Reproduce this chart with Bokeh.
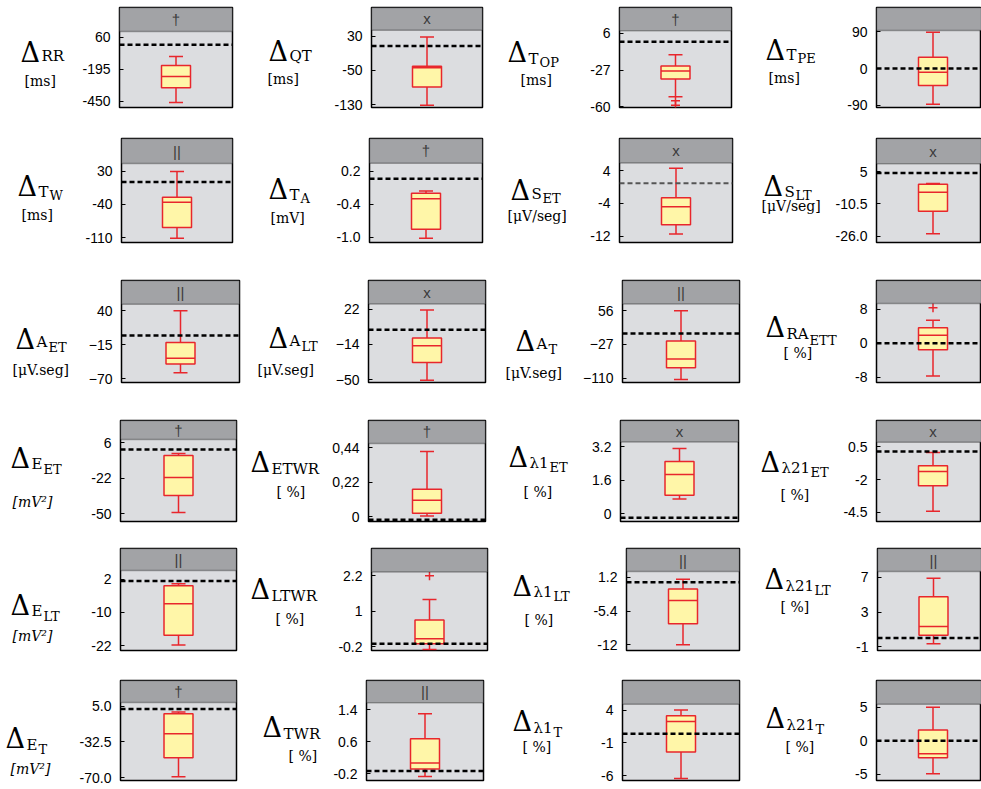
from bokeh.plotting import figure
from bokeh.layouts import column, row
from bokeh.models import Range1d, FixedTicker, Span, BoxAnnotation, Label, ColumnDataSource
from bokeh.core.properties import value
from bokeh.embed import file_html
from bokeh.resources import INLINE

# ---------------- data ----------------
sub_main = ["RR", "QT", "T", "T",
            "T", "T", "S", "S",
            "A", "A", "A", "RA",
            "E", "ETWR", "λ1", "λ21",
            "E", "LTWR", "λ1", "λ21",
            "E", "TWR", "λ1", "λ21"]
sub_second = ["", "", "OP", "PE",
              "W", "A", "ET", "LT",
              "ET", "LT", "T", "ETT",
              "ET", "", "ET", "ET",
              "LT", "", "LT", "LT",
              "T", "", "T", "T"]
unit_text = ["[ms]", "[ms]", "[ms]", "[ms]",
             "[ms]", "[mV]", "[μV/seg]", "[μV/seg]",
             "[μV.seg]", "[μV.seg]", "[μV.seg]", "[ %]",
             "[mV²]", "[ %]", "[ %]", "[ %]",
             "[mV²]", "[ %]", "[ %]", "[ %]",
             "[mV²]", "[ %]", "[ %]", "[ %]"]
header_mark = ["†", "x", "†", "",
               "||", "†", "x", "x",
               "||", "x", "||", "",
               "†", "†", "x", "x",
               "||", "", "||", "||",
               "†", "||", "", ""]

tick_vals = [[60, -195, -450], [30, -50, -130], [6, -27, -60], [90, 0, -90],
             [30, -40, -110], [0.2, -0.4, -1.0], [4, -4, -12], [5, -10.5, -26.0],
             [40, -15, -70], [22, -14, -50], [56, -27, -110], [8, 0, -8],
             [6, -22, -50], [0.44, 0.22, 0], [3.2, 1.6, 0], [0.5, -2, -4.5],
             [2, -10, -22], [2.2, 1, -0.2], [1.2, -5.4, -12], [7, 3, -1],
             [5.0, -32.5, -70.0], [1.4, 0.6, -0.2], [4, -1, -6], [5, 0, -5]]
tick_text = [["60", "-195", "-450"], ["30", "-50", "-130"], ["6", "-27", "-60"], ["90", "0", "-90"],
             ["30", "-40", "-110"], ["0.2", "-0.4", "-1.0"], ["4", "-4", "-12"], ["5", "-10.5", "-26.0"],
             ["40", "\u221215", "\u221270"], ["22", "\u221214", "\u221250"], ["56", "\u221227", "\u2212110"], ["8", "0", "-8"],
             ["6", "-22", "-50"], ["0,44", "0,22", "0"], ["3.2", "1.6", "0"], ["0.5", "-2", "-4.5"],
             ["2", "-10", "-22"], ["2.2", "1", "-0.2"], ["1.2", "-5.4", "-12"], ["7", "3", "-1"],
             ["5.0", "-32.5", "-70.0"], ["1.4", "0.6", "-0.2"], ["4", "-1", "-6"], ["5", "0", "-5"]]

y_low = [-498, -136.7, -60.5, -95.9,
         -120.1, -1.099, -13.56, -29.1,
         -75.7, -53.0, -121, -9.2,
         -56.3, -0.029, -0.36, -5.22,
         -23.7, -0.33, -13.1, -1.44,
         -73, -0.37, -6.72, -5.93]
y_high = [106, 43.3, 8.2, 93.5,
          46.2, 0.344, 5.92, 8.9,
          50.3, 27.3, 73, 9.3,
          8.4, 0.469, 3.42, 0.86,
          5.1, 2.33, 2.33, 7.67,
          9, 1.57, 4.87, 5.43]

w_high = [-93, 27.8, -13.3, 89.5,
          29.4, -0.161, 4.65, -0.6,
          40, 21.3, 56.7, 5.4,
          -2.7, 0.417, 3.11, 0.07,
          0.29, 1.4, 0.82, 6.9,
          -1, 1.30, 4.0, 5.0]
box_q3 = [-164, -40.4, -23.4, 28,
          -24.8, -0.202, -2.6, -1.0,
          -11.1, -7.5, -18.6, 3.65,
          -4.3, 0.176, 2.49, -0.95,
          -0.4, 0.7, -1.06, 4.78,
          -3, 0.67, 3.13, 1.59]
box_med = [-251, -44, -27.7, -9,
           -35.5, -0.30, -4.8, -4.9,
           -36.8, -15.5, -62.6, 1.9,
           -21.6, 0.106, 1.87, -1.38,
           -6.9, 0.067, -3.33, 1.33,
           -24, 0.067, 2.26, -1.96]
box_q1 = [-340, -89, -35, -42,
          -88.3, -0.857, -9.2, -14.0,
          -46, -32.6, -84.6, -1.5,
          -35.8, 0.023, 0.89, -2.47,
          -18.2, -0.1, -7.85, 0.33,
          -49, -0.08, -2.38, -2.53]
w_low = [-458, -131.5, -50.9, -88,
         -111.4, -1.02, -11.5, -24.9,
         -59.8, -50.7, -113.6, -7.7,
         -49.2, 0.006, 0.71, -4.43,
         -21.7, -0.3, -12.0, -0.67,
         -69, -0.27, -6.43, -4.94]
outlier_vals = [[], [], [-54.4, -58.5], [],
                [], [], [], [],
                [], [], [], [8.3],
                [], [], [], [],
                [], [2.2], [], [],
                [], [], [], []]
zero_line = [0, 7, -1.5, 0,
             7.5, 0.06, 0.95, 4.5,
             0, 0.9, 0, 0,
             0.5, -0.018, -0.18, 0.14,
             1.3, -0.1, 0.26, 0,
             2, -0.13, 0.38, 0]

# ---------------- layout (page pixels) ----------------
col_edges = [0, 248, 498, 750, 981]
row_edges = [0, 132, 266, 400, 536, 667, 789]
# frame: left, right, header top, header bottom, plot bottom
frame_box = [(119, 232, 4, 29, 108), (371, 482, 4, 28, 109), (619, 731, 4, 28, 107), (876, 989, 7, 31, 111),
             (121, 232, 138, 164, 246), (369, 482, 137, 162, 242), (619, 732, 137, 162, 243), (876, 989, 138, 164, 245),
             (121, 239, 275, 300, 382), (368, 485, 279, 303, 383), (622, 739, 280, 304, 384), (876, 989, 276, 300, 382),
             (120, 236, 420, 439, 521), (368, 485, 412, 437, 522), (620, 738, 413, 436, 521), (876, 989, 414, 437, 521),
             (120, 236, 543, 566, 650), (371, 487, 548, 572, 652), (626, 739, 546, 570, 652), (877, 989, 546, 570, 652),
             (120, 236, 677, 700, 782), (366, 483, 677, 700, 780), (622, 739, 677, 702, 782), (876, 989, 680, 705, 785)]
# baselines: delta (x, y), first subscript, second subscript, unit
label_pos = [((20, 60), (41, 60), None, (24, 85)),
             ((268, 60), (289, 60), None, (267, 84)),
             ((507, 60), (528, 62), (539, 65), (520, 84)),
             ((765, 61), (786, 62), (797, 65), (768, 85)),
             ((17, 198), (38, 199), (49, 202), (21, 222)),
             ((268, 198), (289, 199), (300, 202), (270, 222)),
             ((510, 200), (531, 199), (542, 203), (507, 221)),
             ((763, 197), (784, 198), (795, 201), (761, 212)),
             ((15, 347), (36, 345), (48, 350), (12, 374)),
             ((268, 348), (289, 346), (301, 351), (257, 375)),
             ((515, 352), (536, 350), (548, 355), (505, 379)),
             ((765, 335), (786, 337), (809, 343), (783, 356)),
             ((10, 468), (31, 469), (43, 474), (12, 507)),
             ((250, 468), (271, 470), None, (276, 495)),
             ((508, 462), (529, 464), (549, 468), (523, 494)),
             ((760, 468), (781, 470), (810, 474), (780, 498)),
             ((10, 612), (31, 614), (43, 619), (12, 640)),
             ((250, 600), (271, 602), None, (275, 625)),
             ((512, 595), (533, 597), (553, 601), (524, 625)),
             ((764, 588), (785, 590), (814, 594), (780, 612)),
             ((5, 748), (26, 750), (38, 754), (10, 775)),
             ((262, 735), (283, 737), None, (288, 760)),
             ((512, 730), (533, 732), (553, 736), (522, 752)),
             ((765, 730), (786, 732), (815, 736), (785, 755))]

RED = "#e8262c"
BOX_FILL = "#fff6a8"
PLOT_BG = "#dcdde0"
HEADER_BG = "#a2a3a6"
SERIF = "DejaVu Serif"
SANS = "Liberation Sans"
TICK_PX = 14
STANDOFF = 9

# rough advance widths (px at 14px Liberation Sans) used to reserve room for the tick labels
CHAR_W = {"-": 4.7, "\u2212": 8.2, ".": 3.9, ",": 3.9}


def tick_label_room(labels):
    widest = max(sum(CHAR_W.get(ch, 7.8) for ch in s) for s in labels)
    return int(widest + STANDOFF + 6)


def label_figure(i, x0, y0, w, h):
    """Narrow text-only figure holding the Delta name and the unit, in page pixels.
    Its frame spans the same rows as the neighbouring panel frame."""
    L, R, top, bnd, bot = frame_box[i]
    lf = figure(width=w, height=h, x_range=Range1d(x0, x0 + w), y_range=Range1d(bot, top),
                x_axis_location=None, y_axis_location=None, toolbar_location=None,
                output_backend="svg", min_border_left=0, min_border_right=0,
                min_border_top=top - y0, min_border_bottom=y0 + h - bot,
                outline_line_color=None,
                background_fill_color="white", border_fill_color="white")
    lf.grid.visible = False
    d_xy, s1_xy, s2_xy, u_xy = label_pos[i]
    pieces = [("Δ", d_xy, 27, "normal"), (sub_main[i], s1_xy, 15, "normal")]
    if sub_second[i] and s2_xy is not None:
        pieces.append((sub_second[i], s2_xy, 13, "normal"))
    pieces.append((unit_text[i], u_xy, 14, "italic" if "mV²" in unit_text[i] else "normal"))
    for text, (tx, ty), size, style in pieces:
        # centre the text vertically half a cap height above its baseline
        lf.text(x=[tx], y=[ty - 0.36 * size], text=[text], text_font=value(SERIF),
                text_font_size=value(f"{size}px"), text_font_style=style,
                text_color="black", text_align="left", text_baseline="middle")
    return lf


def panel_figure(i, x_left, x1, y0, y1):
    L, R, top, bnd, bot = frame_box[i]
    visible = min(R, x1) - L
    lo, hi = y_low[i], y_high[i]
    # extend the range upward so the grey header strip sits above the data area
    y_top = hi + (hi - lo) * (bnd - top) / (bot - bnd)

    p = figure(width=x1 - x_left, height=y1 - y0,
               x_range=Range1d(0, visible / (R - L)), y_range=Range1d(lo, y_top),
               x_axis_location=None, y_axis_location="left",
               toolbar_location=None, output_backend="svg",
               min_border_left=L - x_left, min_border_right=max(x1 - R, 0),
               min_border_top=top - y0, min_border_bottom=y1 - bot,
               background_fill_color=PLOT_BG, border_fill_color="white",
               outline_line_color="black", outline_line_width=1.5)
    p.grid.visible = False

    ax = p.yaxis[0]
    ax.ticker = FixedTicker(ticks=tick_vals[i])
    ax.major_label_overrides = dict(zip(tick_vals[i], tick_text[i]))
    ax.major_label_text_font = SANS
    ax.major_label_text_font_size = f"{TICK_PX}px"
    ax.major_label_text_color = "black"
    ax.axis_line_color = None
    ax.major_tick_in = 4
    ax.major_tick_out = 0
    ax.major_tick_line_color = "black"
    ax.minor_tick_line_color = None
    ax.major_label_standoff = STANDOFF

    # header strip with its mark
    p.add_layout(BoxAnnotation(bottom=hi, fill_color=HEADER_BG, fill_alpha=1.0,
                               line_color="black", line_width=1.5))
    if header_mark[i]:
        p.add_layout(Label(x=0.5, y=(hi + y_top) / 2, text=header_mark[i],
                           text_font=SANS, text_font_size="15px", text_color="#3a3a3a",
                           text_align="center", text_baseline="middle"))

    # box plot
    src = ColumnDataSource(dict(x=[0.5], q1=[box_q1[i]], q3=[box_q3[i]], med=[box_med[i]],
                                whi=[w_high[i]], wlo=[w_low[i]]))
    p.segment(x0="x", y0="q3", x1="x", y1="whi", source=src, line_color=RED, line_width=1.5)
    p.segment(x0="x", y0="q1", x1="x", y1="wlo", source=src, line_color=RED, line_width=1.5)
    p.scatter(x="x", y="whi", source=src, marker="dash", size=14, line_color=RED, line_width=1.5)
    p.scatter(x="x", y="wlo", source=src, marker="dash", size=14, line_color=RED, line_width=1.5)
    p.quad(left=0.5 - 14.5 / (R - L), right=0.5 + 14.5 / (R - L), bottom="q1", top="q3",
           source=src, fill_color=BOX_FILL, line_color=RED, line_width=1.5)
    p.scatter(x="x", y="med", source=src, marker="dash", size=29, line_color=RED, line_width=1.5)
    if outlier_vals[i]:
        p.scatter(x=[0.5] * len(outlier_vals[i]), y=outlier_vals[i], marker="cross",
                  size=9, line_color=RED, line_width=1.5)

    # reference line
    dash_color = "#555555" if i == 6 else "black"
    dash_width = 2 if i == 6 else 2.5
    p.add_layout(Span(location=zero_line[i], dimension="width", line_color=dash_color,
                      line_dash="5 3", line_width=dash_width))
    return p


rows = []
for r in range(6):
    items = []
    y0, y1 = row_edges[r], row_edges[r + 1]
    for c in range(4):
        i = r * 4 + c
        x0, x1 = col_edges[c], col_edges[c + 1]
        x_split = frame_box[i][0] - tick_label_room(tick_text[i])
        items.append(label_figure(i, x0, y0, x_split - x0, y1 - y0))
        items.append(panel_figure(i, x_split, x1, y0, y1))
    rows.append(row(*items))

layout = column(*rows)
open("out.html", "w").write(file_html(layout, INLINE))
